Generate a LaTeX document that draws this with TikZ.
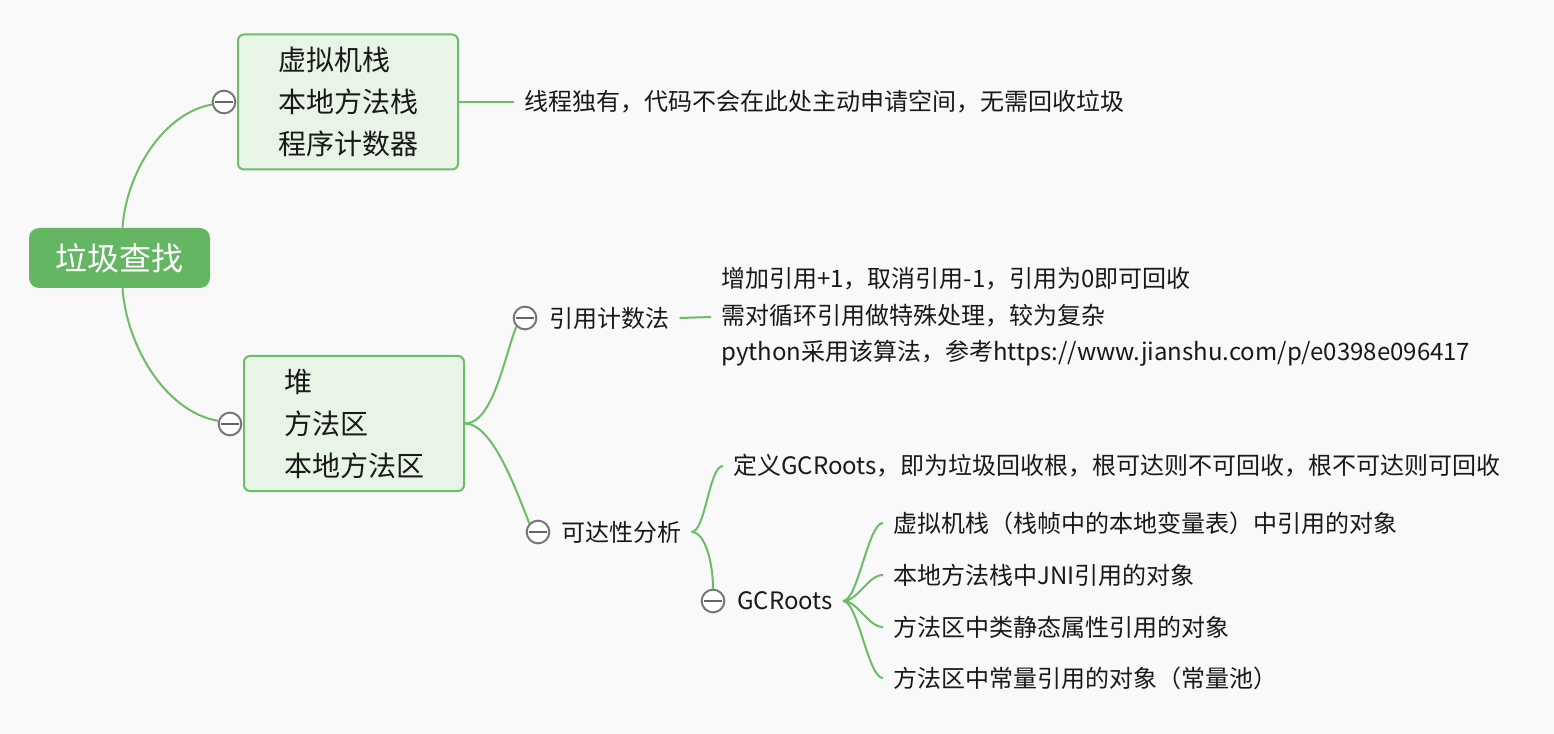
\documentclass[tikz,border=0pt]{standalone}
\usepackage{fontspec}
\setmainfont{Noto Sans CJK SC}
\usetikzlibrary{calc}
\definecolor{bg}{RGB}{249,249,249}
\definecolor{lgreen}{RGB}{108,189,104}
\definecolor{rootg}{RGB}{100,182,98}
\definecolor{boxfill}{RGB}{232,244,230}
\definecolor{cgray}{RGB}{118,118,118}
\definecolor{mgray}{RGB}{100,100,100}
\definecolor{txt}{RGB}{25,25,25}
\begin{document}
\begin{tikzpicture}[x=0.75pt,y=-0.75pt,
 conn/.style={draw=lgreen, line width=1.5pt},
 rootbox/.style={rounded corners=7.5pt, fill=rootg, text=white, minimum width=135.75pt, minimum height=45pt, font=\fontsize{24pt}{28pt}\selectfont, inner sep=0},
 membox/.style={rounded corners=4.5pt, draw=lgreen, line width=1.5pt, fill=boxfill, minimum width=165pt, minimum height=101.25pt, align=left, font=\fontsize{21pt}{31.5pt}\selectfont, text=txt, inner sep=0},
 fold/.style={circle, draw=cgray, fill=white, line width=1.5pt, minimum size=17pt, inner sep=0, path picture={\draw[mgray,line width=1.6pt] ([xshift=-6.75pt]path picture bounding box.center) -- ([xshift=6.75pt]path picture bounding box.center);}},
 leaf/.style={anchor=west, inner xsep=7.5pt, inner ysep=2pt, text=txt, font=\fontsize{18pt}{27.4pt}\selectfont, align=left},
]
\path[use as bounding box, fill=bg] (0,0) rectangle (1554,734);

\node[rootbox] (root) at (119.5,258) {垃圾查找};
\node[membox] (box1) at (348,102) {虚拟机栈\\本地方法栈\\程序计数器};
\node[leaf] (t1) at (514,102) {线程独有，代码不会在此处主动申请空间，无需回收垃圾};
\node[membox] (box2) at (354,423.5) {堆\\方法区\\本地方法区};
\node[leaf] (t3) at (539,318) {引用计数法};
\node[leaf] (t3d) at (711,317) {增加引用+1，取消引用-1，引用为0即可回收\\需对循环引用做特殊处理，较为复杂\\python采用该算法，参考https://www.jianshu.com/p/e0398e096417};
\node[leaf] (t4) at (551,532) {可达性分析};
\node[leaf] (t5) at (723,466) {定义GCRoots，即为垃圾回收根，根可达则不可回收，根不可达则可回收};
\node[leaf] (t6) at (727,601) {GCRoots};
\node[leaf] (g1) at (883,523) {虚拟机栈（栈帧中的本地变量表）中引用的对象};
\node[leaf] (g2) at (883,575) {本地方法栈中JNI引用的对象};
\node[leaf] (g3) at (883,627) {方法区中类静态属性引用的对象};
\node[leaf] (g4) at (883,678) {方法区中常量引用的对象（常量池）};

\node[fold] (c1) at (224,102) {};
\node[fold] (c2) at (230,424) {};
\node[fold] (c3) at (525,318) {};
\node[fold] (c4) at (538,532) {};
\node[fold] (c6) at (713,601) {};

\draw[conn] ([xshift=2.25pt]root.north) .. controls +(4,-57) and +(-47,8) .. (c1.192);
\draw[conn] ([xshift=2.25pt]root.south) .. controls +(4,57) and +(-53,-9) .. (c2.165);
\draw[conn] (box1.east) -- (t1.west);
\draw[conn] (box2.east) .. controls +(28,0) and +(-12,30) .. (c3.south west);
\draw[conn] (box2.east) .. controls +(28,0) and +(-12,-30) .. (c4.north west);
\draw[conn] (t3.east) -- (t3d.west);
\draw[conn] (t4.east) .. controls +(14,0) and +(-14,0) .. (t5.west);
\draw[conn] (t4.east) .. controls +(14,0) and +(0,-25) .. (c6.north);
\foreach \g in {g1,g2,g3,g4}
  \draw[conn] (t6.east) .. controls +(15,0) and +(-15,0) .. (\g.west);
\end{tikzpicture}
\end{document}
